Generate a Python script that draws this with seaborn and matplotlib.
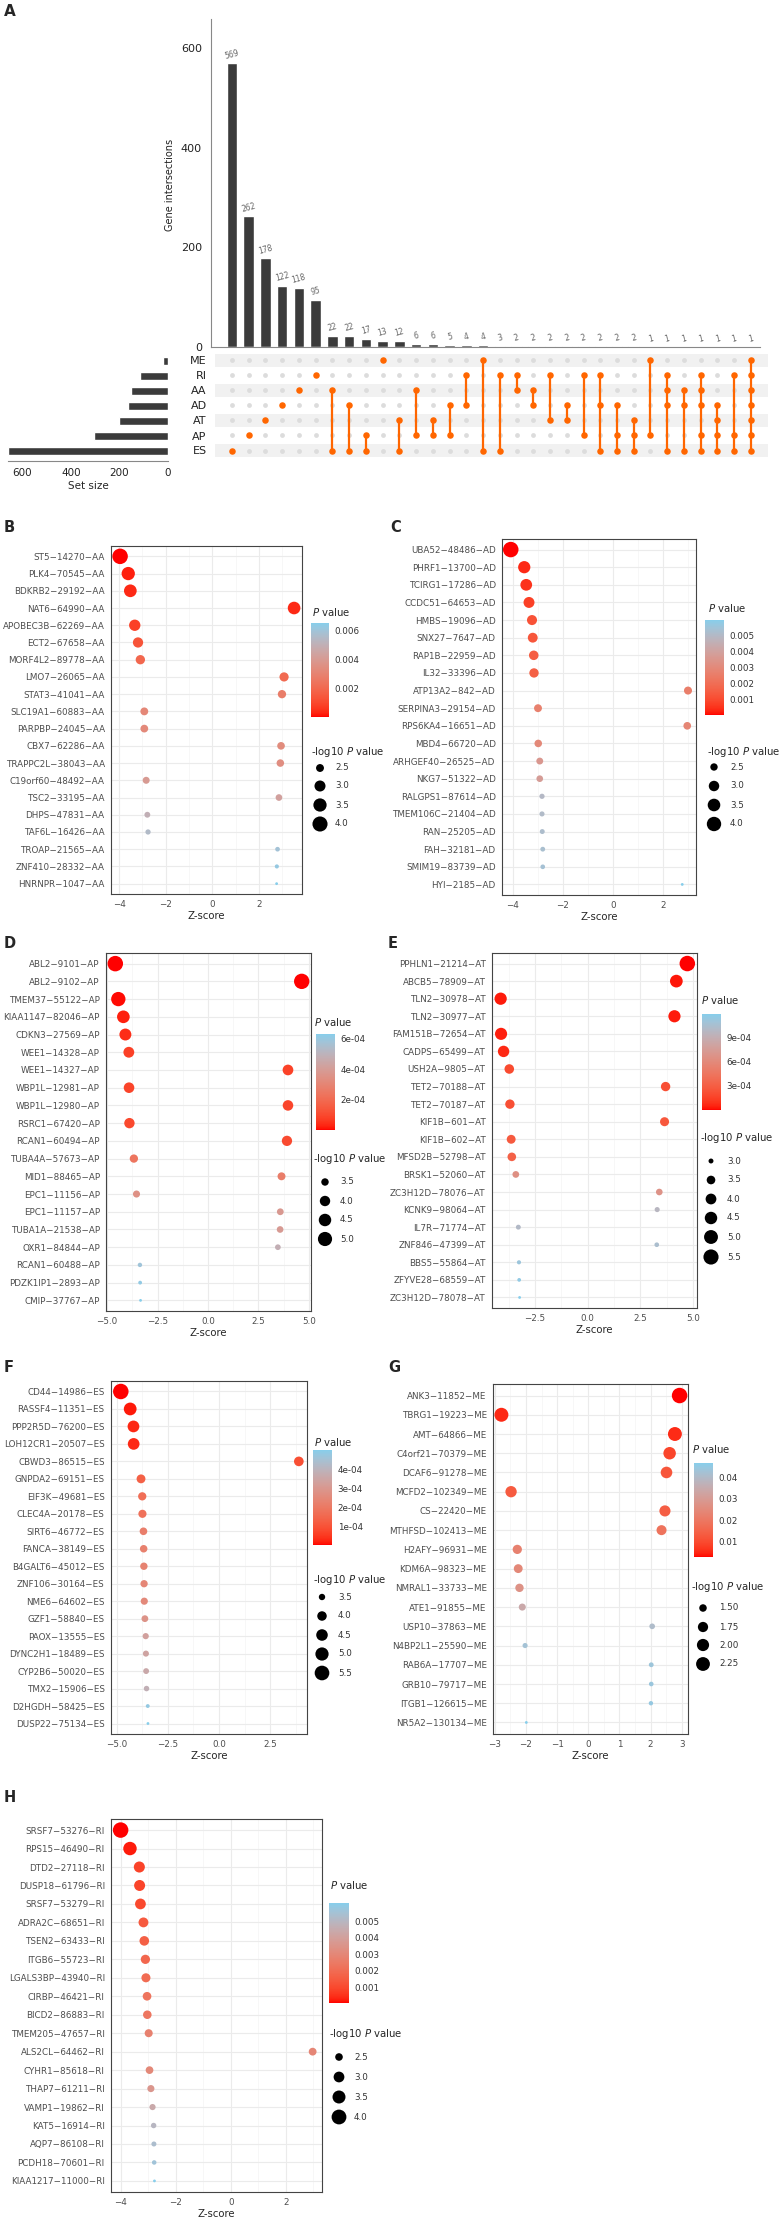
import numpy as np
import pandas as pd
import matplotlib
matplotlib.use("Agg")
import matplotlib.pyplot as plt
import seaborn as sns
from matplotlib.colors import ListedColormap, Normalize, to_rgb
from matplotlib.cm import ScalarMappable
from matplotlib.ticker import AutoMinorLocator

sns.set_style("white")
plt.rcParams["font.family"] = ["DejaVu Sans"]

# ---------------- panel A: UpSet data ----------------
set_names = ["ME", "RI", "AA", "AD", "AT", "AP", "ES"]
inter_counts = [569, 262, 178, 122, 118, 95, 22, 22, 17, 13, 12, 6, 6, 5, 4, 4, 3,
                2, 2, 2, 2, 2, 2, 2, 2, 1, 1, 1, 1, 1, 1, 1]
inter_sets = [
    ["ES"], ["AP"], ["AT"], ["AD"], ["AA"], ["RI"],
    ["AA", "ES"], ["AD", "ES"], ["AP", "ES"], ["ME"], ["AT", "ES"],
    ["AA", "AP"], ["AT", "AP"], ["AD", "AP"], ["RI", "AD"], ["ME", "ES"], ["RI", "ES"],
    ["RI", "AA"], ["AA", "AD"], ["RI", "AT"], ["AD", "AT"], ["RI", "AP"],
    ["RI", "AD", "ES"], ["AD", "AP", "ES"], ["AT", "AP", "ES"],
    ["ME", "AP"], ["RI", "AA", "AD", "ES"], ["AA", "AD", "ES"],
    ["RI", "AA", "AD", "AP", "ES"], ["AD", "AT", "AP", "ES"], ["RI", "AP", "ES"],
    ["ME", "RI", "AA", "AD", "AT", "AP", "ES"],
]
top_yticks = [0, 200, 400, 600]
set_xticks = [600, 400, 200, 0]

# ---------------- panels B-H: splicing events ----------------
b_genes = ["ST5-14270-AA", "PLK4-70545-AA", "BDKRB2-29192-AA", "NAT6-64990-AA",
           "APOBEC3B-62269-AA", "ECT2-67658-AA", "MORF4L2-89778-AA", "LMO7-26065-AA",
           "STAT3-41041-AA", "SLC19A1-60883-AA", "PARPBP-24045-AA", "CBX7-62286-AA",
           "TRAPPC2L-38043-AA", "C19orf60-48492-AA", "TSC2-33195-AA", "DHPS-47831-AA",
           "TAF6L-16426-AA", "TROAP-21565-AA", "ZNF410-28332-AA", "HNRNPR-1047-AA"]
b_z = [-3.96, -3.61, -3.52, 3.51, -3.33, -3.19, -3.09, 3.08, 2.99, -2.92,
       -2.92, 2.95, 2.92, -2.84, 2.86, -2.79, -2.76, 2.80, 2.77, 2.76]
b_p = [7.5e-5, 3.1e-4, 4.3e-4, 4.5e-4, 8.7e-4, 1.4e-3, 2.0e-3, 2.1e-3, 2.8e-3, 3.2e-3,
       3.3e-3, 3.4e-3, 3.5e-3, 4.0e-3, 4.3e-3, 5.0e-3, 5.5e-3, 5.9e-3, 6.2e-3, 6.5e-3]
b_cticks = [0.002, 0.004, 0.006]
b_clabels = ["0.002", "0.004", "0.006"]
b_sticks = [2.5, 3.0, 3.5, 4.0]
b_slabels = ["2.5", "3.0", "3.5", "4.0"]

c_genes = ["UBA52-48486-AD", "PHRF1-13700-AD", "TCIRG1-17286-AD", "CCDC51-64653-AD",
           "HMBS-19096-AD", "SNX27-7647-AD", "RAP1B-22959-AD", "IL32-33396-AD",
           "ATP13A2-842-AD", "SERPINA3-29154-AD", "RPS6KA4-16651-AD", "MBD4-66720-AD",
           "ARHGEF40-26525-AD", "NKG7-51322-AD", "RALGPS1-87614-AD", "TMEM106C-21404-AD",
           "RAN-25205-AD", "FAH-32181-AD", "SMIM19-83739-AD", "HYI-2185-AD"]
c_z = [-4.09, -3.55, -3.47, -3.36, -3.24, -3.21, -3.17, -3.16, 3.00, -3.00,
       2.97, -2.99, -2.93, -2.93, -2.84, -2.84, -2.83, -2.81, -2.81, 2.77]
c_p = [4.3e-5, 3.9e-4, 5.2e-4, 7.8e-4, 1.2e-3, 1.3e-3, 1.5e-3, 1.6e-3, 2.6e-3, 2.7e-3,
       2.9e-3, 3.0e-3, 3.6e-3, 3.8e-3, 5.0e-3, 5.1e-3, 5.2e-3, 5.3e-3, 5.4e-3, 6.0e-3]
c_cticks = [0.001, 0.002, 0.003, 0.004, 0.005]
c_clabels = ["0.001", "0.002", "0.003", "0.004", "0.005"]
c_sticks = [2.5, 3.0, 3.5, 4.0]
c_slabels = ["2.5", "3.0", "3.5", "4.0"]

d_genes = ["ABL2-9101-AP", "ABL2-9102-AP", "TMEM37-55122-AP", "KIAA1147-82046-AP",
           "CDKN3-27569-AP", "WEE1-14328-AP", "WEE1-14327-AP", "WBP1L-12981-AP",
           "WBP1L-12980-AP", "RSRC1-67420-AP", "RCAN1-60494-AP", "TUBA4A-57673-AP",
           "MID1-88465-AP", "EPC1-11156-AP", "EPC1-11157-AP", "TUBA1A-21538-AP",
           "OXR1-84844-AP", "RCAN1-60488-AP", "PDZK1IP1-2893-AP", "CMIP-37767-AP"]
d_z = [-4.59, 4.64, -4.44, -4.19, -4.09, -3.92, 3.96, -3.91, 3.96, -3.89,
       3.91, -3.67, 3.64, -3.54, 3.58, 3.57, 3.46, -3.37, -3.36, -3.34]
d_p = [3.6e-6, 4.0e-6, 9.0e-6, 2.8e-5, 4.3e-5, 8.0e-5, 8.5e-5, 9.0e-5, 9.2e-5, 1.0e-4,
       1.05e-4, 2.4e-4, 2.7e-4, 3.5e-4, 3.8e-4, 3.9e-4, 4.8e-4, 5.8e-4, 6.1e-4, 6.3e-4]
d_cticks = [2e-4, 4e-4, 6e-4]
d_clabels = ["2e-04", "4e-04", "6e-04"]
d_sticks = [3.5, 4.0, 4.5, 5.0]
d_slabels = ["3.5", "4.0", "4.5", "5.0"]

e_genes = ["PPHLN1-21214-AT", "ABCB5-78909-AT", "TLN2-30978-AT", "TLN2-30977-AT",
           "FAM151B-72654-AT", "CADPS-65499-AT", "USH2A-9805-AT", "TET2-70188-AT",
           "TET2-70187-AT", "KIF1B-601-AT", "KIF1B-602-AT", "MFSD2B-52798-AT",
           "BRSK1-52060-AT", "ZC3H12D-78076-AT", "KCNK9-98064-AT", "IL7R-71774-AT",
           "ZNF846-47399-AT", "BBS5-55864-AT", "ZFYVE28-68559-AT", "ZC3H12D-78078-AT"]
e_z = [4.73, 4.21, -4.13, 4.12, -4.11, -3.99, -3.72, 3.70, -3.69, 3.65,
       -3.63, -3.60, -3.41, 3.40, 3.30, -3.29, 3.28, -3.26, -3.25, -3.23]
e_p = [2.2e-6, 2.6e-5, 3.6e-5, 3.8e-5, 4.0e-5, 6.6e-5, 2.0e-4, 2.2e-4, 2.2e-4, 2.6e-4,
       2.8e-4, 3.2e-4, 6.5e-4, 6.7e-4, 9.7e-4, 1.0e-3, 1.04e-3, 1.11e-3, 1.15e-3, 1.19e-3]
e_cticks = [3e-4, 6e-4, 9e-4]
e_clabels = ["3e-04", "6e-04", "9e-04"]
e_sticks = [3.0, 3.5, 4.0, 4.5, 5.0, 5.5]
e_slabels = ["3.0", "3.5", "4.0", "4.5", "5.0", "5.5"]

f_genes = ["CD44-14986-ES", "RASSF4-11351-ES", "PPP2R5D-76200-ES", "LOH12CR1-20507-ES",
           "CBWD3-86515-ES", "GNPDA2-69151-ES", "EIF3K-49681-ES", "CLEC4A-20178-ES",
           "SIRT6-46772-ES", "FANCA-38149-ES", "B4GALT6-45012-ES", "ZNF106-30164-ES",
           "NME6-64602-ES", "GZF1-58840-ES", "PAOX-13555-ES", "DYNC2H1-18489-ES",
           "CYP2B6-50020-ES", "TMX2-15906-ES", "D2HGDH-58425-ES", "DUSP22-75134-ES"]
f_z = [-4.81, -4.35, -4.19, -4.18, 3.91, -3.82, -3.76, -3.75, -3.70, -3.69,
       -3.68, -3.67, -3.66, -3.63, -3.59, -3.58, -3.57, -3.55, -3.49, -3.48]
f_p = [1.5e-6, 1.4e-5, 2.8e-5, 2.9e-5, 9.2e-5, 1.33e-4, 1.7e-4, 1.77e-4, 2.16e-4, 2.24e-4,
       2.33e-4, 2.42e-4, 2.52e-4, 2.83e-4, 3.3e-4, 3.4e-4, 3.57e-4, 3.85e-4, 4.8e-4, 5.0e-4]
f_cticks = [1e-4, 2e-4, 3e-4, 4e-4]
f_clabels = ["1e-04", "2e-04", "3e-04", "4e-04"]
f_sticks = [3.5, 4.0, 4.5, 5.0, 5.5]
f_slabels = ["3.5", "4.0", "4.5", "5.0", "5.5"]

g_genes = ["ANK3-11852-ME", "TBRG1-19223-ME", "AMT-64866-ME", "C4orf21-70379-ME",
           "DCAF6-91278-ME", "MCFD2-102349-ME", "CS-22420-ME", "MTHFSD-102413-ME",
           "H2AFY-96931-ME", "KDM6A-98323-ME", "NMRAL1-33733-ME", "ATE1-91855-ME",
           "USP10-37863-ME", "N4BP2L1-25590-ME", "RAB6A-17707-ME", "GRB10-79717-ME",
           "ITGB1-126615-ME", "NR5A2-130134-ME"]
g_z = [2.93, -2.79, 2.78, 2.61, 2.51, -2.48, 2.46, 2.35, -2.28, -2.25,
       -2.21, -2.12, 2.05, -2.03, 2.02, 2.02, 2.01, -1.99]
g_p = [0.0028, 0.0053, 0.0054, 0.0091, 0.0121, 0.0131, 0.0139, 0.0188, 0.0226, 0.0245,
       0.0271, 0.034, 0.0404, 0.0424, 0.0434, 0.0440, 0.0446, 0.0466]
g_cticks = [0.01, 0.02, 0.03, 0.04]
g_clabels = ["0.01", "0.02", "0.03", "0.04"]
g_sticks = [1.5, 1.75, 2.0, 2.25]
g_slabels = ["1.50", "1.75", "2.00", "2.25"]

h_genes = ["SRSF7-53276-RI", "RPS15-46490-RI", "DTD2-27118-RI", "DUSP18-61796-RI",
           "SRSF7-53279-RI", "ADRA2C-68651-RI", "TSEN2-63433-RI", "ITGB6-55723-RI",
           "LGALS3BP-43940-RI", "CIRBP-46421-RI", "BICD2-86883-RI", "TMEM205-47657-RI",
           "ALS2CL-64462-RI", "CYHR1-85618-RI", "THAP7-61211-RI", "VAMP1-19862-RI",
           "KAT5-16914-RI", "AQP7-86108-RI", "PCDH18-70601-RI", "KIAA1217-11000-RI"]
h_z = [-4.01, -3.67, -3.33, -3.32, -3.29, -3.18, -3.15, -3.11, -3.09, -3.05,
       -3.04, -2.99, 2.97, -2.96, -2.91, -2.85, -2.81, -2.80, -2.79, -2.78]
h_p = [6.1e-5, 2.4e-4, 8.7e-4, 9.0e-4, 1.0e-3, 1.47e-3, 1.63e-3, 1.87e-3, 2.0e-3, 2.29e-3,
       2.37e-3, 2.79e-3, 2.98e-3, 3.08e-3, 3.6e-3, 4.4e-3, 5.0e-3, 5.3e-3, 5.6e-3, 6.1e-3]
h_cticks = [0.001, 0.002, 0.003, 0.004, 0.005]
h_clabels = ["0.001", "0.002", "0.003", "0.004", "0.005"]
h_sticks = [2.5, 3.0, 3.5, 4.0]
h_slabels = ["2.5", "3.0", "3.5", "4.0"]

BAR = "#3B3B3B"
ORANGE = "#FF6600"
TXT = "#4D4D4D"
D0, D1 = 2.8, 15.5  # smallest / largest dot diameter in px
MINUS = "\u2212"


# red -> skyblue gradient interpolated in Lab (like ggplot)
def rgb2lab(c):
    c = np.array(to_rgb(c))
    c = np.where(c <= 0.04045, c / 12.92, ((c + 0.055) / 1.055) ** 2.4)
    m = np.array([[0.4124, 0.3576, 0.1805], [0.2126, 0.7152, 0.0722], [0.0193, 0.1192, 0.9505]])
    xyz = m @ c / np.array([0.95047, 1.0, 1.08883])
    f = np.where(xyz > 0.008856, np.cbrt(xyz), 7.787 * xyz + 16 / 116)
    return np.array([116 * f[1] - 16, 500 * (f[0] - f[1]), 200 * (f[1] - f[2])])


def lab2rgb(lab):
    fy = (lab[0] + 16) / 116
    f = np.array([fy + lab[1] / 500, fy, fy - lab[2] / 200])
    xyz = np.where(f ** 3 > 0.008856, f ** 3, (f - 16 / 116) / 7.787) * np.array([0.95047, 1.0, 1.08883])
    m = np.array([[3.2406, -1.5372, -0.4986], [-0.9689, 1.8758, 0.0415], [0.0557, -0.2040, 1.0570]])
    c = np.clip(m @ xyz, 0, None)
    c = np.where(c <= 0.0031308, 12.92 * c, 1.055 * c ** (1 / 2.4) - 0.055)
    return np.clip(c, 0, 1)


lo_lab, hi_lab = rgb2lab("red"), rgb2lab("skyblue")
CMAP = ListedColormap([lab2rgb(lo_lab + t * (hi_lab - lo_lab)) for t in np.linspace(0, 1, 256)])

W, H = 783, 2219
fig = plt.figure(figsize=(W / 100, H / 100), dpi=100)


def px_axes(l, t, r, b):
    return fig.add_axes([l / W, 1 - b / H, (r - l) / W, (b - t) / H])


ov = fig.add_axes([0, 0, 1, 1], zorder=10)
ov.set_xlim(0, W)
ov.set_ylim(H, 0)
ov.axis("off")

# ---------------- panel A ----------------
cols = np.arange(len(inter_counts))
ax_top = px_axes(211, 19, 760, 347)
sns.barplot(x=cols, y=inter_counts, color=BAR, saturation=1, width=0.63,
            errorbar=None, ax=ax_top)
ax_top.bar_label(ax_top.containers[0], labels=[str(c) for c in inter_counts],
                 padding=2, fontsize=5.5, color="#666666", rotation=15)
ax_top.set_xlim(-1.25, 31.54)
ax_top.set_ylim(0, 658)
ax_top.set_xticks([])
ax_top.set_yticks(top_yticks)
ax_top.tick_params(axis="y", labelsize=8, length=3, color="#777777", labelcolor="#222222")
ax_top.set_xlabel("")
ax_top.set_ylabel("")
for s in ["top", "right"]:
    ax_top.spines[s].set_visible(False)
for s in ["left", "bottom"]:
    ax_top.spines[s].set_color("#888888")
    ax_top.spines[s].set_linewidth(0.8)
ov.text(170, 185, "Gene intersections", rotation=90, ha="center", va="center",
        fontsize=7, color="#222222")

set_sizes = [sum(c for c, m in zip(inter_counts, inter_sets) if s in m) for s in set_names]
ax_set = px_axes(8, 353, 168, 461)
sns.barplot(x=set_sizes, y=set_names, orient="h", color=BAR, saturation=1, width=0.5,
            errorbar=None, ax=ax_set)
ax_set.set_xlim(660, 0)
ax_set.set_ylim(6.667, -0.533)
ax_set.set_xticks(set_xticks)
ax_set.set_yticks([])
ax_set.tick_params(axis="x", labelsize=7.5, length=3, color="#777777", labelcolor="#222222", pad=2)
ax_set.set_xlabel("Set size", fontsize=7.5, labelpad=2)
ax_set.set_ylabel("")
for s in ["top", "right", "left"]:
    ax_set.spines[s].set_visible(False)
ax_set.spines["bottom"].set_color("#888888")

ax_m = px_axes(215, 353, 768, 458)
for i in range(0, len(set_names), 2):
    ax_m.axhspan(i - 0.42, i + 0.42, color="#F1F1F1", zorder=0, lw=0)
grid = pd.DataFrame([(c, r) for c in cols for r in range(len(set_names))], columns=["col", "row"])
sns.scatterplot(data=grid, x="col", y="row", color="#DCDCDC", s=12, linewidth=0, ax=ax_m, zorder=2)
mem = pd.DataFrame([(c, set_names.index(s)) for c, m in zip(cols, inter_sets) for s in m],
                   columns=["col", "row"])
for c, g in mem.groupby("col"):
    if len(g) > 1:
        ax_m.plot([c, c], [g.row.min(), g.row.max()], color=ORANGE, lw=1.6, zorder=3)
sns.scatterplot(data=mem, x="col", y="row", color=ORANGE, s=22, linewidth=0, ax=ax_m, zorder=4)
ax_m.set_xlim(-1.016, 32.02)
ax_m.set_ylim(6.5, -0.5)
ax_m.set_xticks([])
ax_m.set_yticks(range(len(set_names)))
ax_m.set_yticklabels(set_names)
ax_m.tick_params(axis="y", length=0, labelsize=8, pad=6, labelcolor="#222222")
ax_m.set_xlabel("")
ax_m.set_ylabel("")
for s in ax_m.spines.values():
    s.set_visible(False)
ov.text(4, 12, "A", fontsize=11, fontweight="bold", va="center")


# ---------------- panels B-H ----------------
def dot_panel(letter, lxy, genes, z, p, box, xlim, xticks, fmt,
              cbox, cticks, clabels, title_xy, sticks, slabels, stitle_y, sy, sdx, slx):
    df = pd.DataFrame({"gene": genes, "z": z, "p": p})
    df["mlog"] = -np.log10(df["p"])
    lo, hi = df["mlog"].min(), df["mlog"].max()

    def area(v):
        t = np.clip((v - lo) / (hi - lo), 0, 1)
        return ((D0 + (D1 - D0) * np.sqrt(t)) * 0.72) ** 2

    sizes = {v: area(v) for v in df["mlog"]}
    ax = px_axes(*box)
    ax.set_axisbelow(True)
    sns.scatterplot(data=df, x="z", y="gene", hue="p", palette=CMAP,
                    hue_norm=(df["p"].min(), df["p"].max()), size="mlog", sizes=sizes,
                    linewidth=0, legend=False, ax=ax, zorder=3)
    n = len(genes)
    ax.set_ylim(n - 1 + 0.6, -0.6)
    ax.set_yticks(range(n), labels=[g.replace("-", MINUS) for g in genes])
    ax.set_xlim(*xlim)
    ax.set_xticks(xticks, labels=[fmt.format(v).replace("-", MINUS) for v in xticks])
    ax.xaxis.set_minor_locator(AutoMinorLocator(2))
    ax.grid(True, which="major", color="#EBEBEB", lw=0.8)
    ax.grid(True, which="minor", axis="x", color="#F4F4F4", lw=0.5)
    ax.tick_params(which="major", length=3, width=0.6, color="#333333")
    ax.tick_params(which="minor", length=0)
    ax.tick_params(axis="y", labelsize=6.3, labelcolor=TXT, pad=1.5)
    ax.tick_params(axis="x", labelsize=6.3, labelcolor=TXT, pad=1.5)
    ax.set_xlabel("Z-score", fontsize=7.3, labelpad=1)
    ax.set_ylabel("")
    for s in ax.spines.values():
        s.set_color("#444444")
        s.set_linewidth(0.8)

    cax = px_axes(*cbox)
    cb = fig.colorbar(ScalarMappable(norm=Normalize(df["p"].min(), df["p"].max()), cmap=CMAP),
                      cax=cax)
    cb.set_ticks(cticks, labels=clabels)
    cb.outline.set_visible(False)
    cax.minorticks_off()
    cax.tick_params(direction="in", length=3, width=0.8, color="white", left=True, right=True,
                    labelsize=6.3, labelcolor="#333333", pad=4)

    ov.text(title_xy[0], title_xy[1], "$\\it{P}$ value", fontsize=7.3, va="center", ha="left")
    ov.text(title_xy[0] - 1, stitle_y, "-log10 $\\it{P}$ value", fontsize=7.3, va="center", ha="left")
    ov.scatter([sdx] * len(sticks), sy, s=[area(v) for v in sticks], color="black", linewidth=0)
    for yy, lab in zip(sy, slabels):
        ov.text(slx, yy, lab, fontsize=6.3, va="center", ha="left", color="#333333")
    ov.text(lxy[0], lxy[1], letter, fontsize=10.5, fontweight="bold", va="center")


dot_panel("B", (4, 528), b_genes, b_z, b_p, (111, 546, 302, 894), (-4.35, 3.85), [-4, -2, 0, 2], "{:g}",
          (311, 623, 329, 717), b_cticks, b_clabels, (312, 612), b_sticks, b_slabels, 752,
          [768, 786, 805, 824], 320, 335)
dot_panel("C", (390, 528), c_genes, c_z, c_p, (502, 539, 696, 895), (-4.44, 3.32), [-4, -2, 0, 2], "{:g}",
          (705, 620, 724, 715), c_cticks, c_clabels, (708, 608), c_sticks, c_slabels, 752,
          [767, 786, 805, 824], 714, 730)
dot_panel("D", (4, 943), d_genes, d_z, d_p, (106, 953, 311, 1311), (-5.05, 5.1),
          [-5, -2.5, 0, 2.5, 5], "{:.1f}",
          (316, 1034, 335, 1130), d_cticks, d_clabels, (314, 1022), d_sticks, d_slabels, 1159,
          [1182, 1201, 1220, 1239], 325, 340)
dot_panel("E", (388, 943), e_genes, e_z, e_p, (492, 953, 697, 1308), (-4.54, 5.19),
          [-2.5, 0, 2.5, 5], "{:.1f}",
          (702, 1014, 721, 1110), e_cticks, e_clabels, (701, 1000), e_sticks, e_slabels, 1138,
          [1161, 1180, 1199, 1218, 1237, 1257], 711, 727)
dot_panel("F", (4, 1368), f_genes, f_z, f_p, (111, 1381, 307, 1734), (-5.29, 4.31),
          [-5, -2.5, 0, 2.5], "{:.1f}",
          (313, 1450, 332, 1545), f_cticks, f_clabels, (314, 1442), f_sticks, f_slabels, 1580,
          [1597, 1616, 1635, 1654, 1673], 322, 338)
dot_panel("G", (388, 1368), g_genes, g_z, g_p, (493, 1384, 688, 1734), (-3.06, 3.2),
          [-3, -2, -1, 0, 1, 2, 3], "{:g}",
          (694, 1463, 713, 1557), g_cticks, g_clabels, (692, 1449), g_sticks, g_slabels, 1587,
          [1608, 1627, 1645, 1664], 703, 719)
dot_panel("H", (4, 1798), h_genes, h_z, h_p, (111, 1819, 322, 2192), (-4.36, 3.31), [-4, -2, 0, 2], "{:g}",
          (329, 1903, 349, 2003), h_cticks, h_clabels, (330, 1885), h_sticks, h_slabels, 2034,
          [2057, 2077, 2097, 2117], 339, 354)

fig.savefig("out.png", dpi=100)
